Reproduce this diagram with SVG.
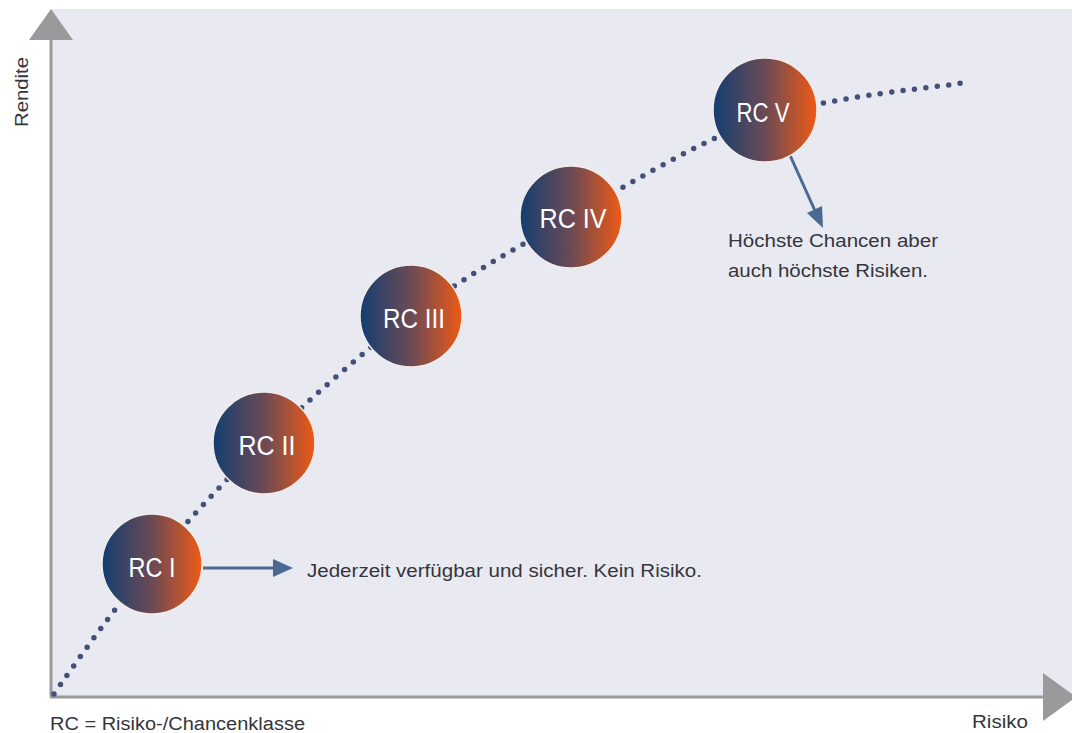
<svg xmlns="http://www.w3.org/2000/svg" width="1072" height="733" viewBox="0 0 1072 733">
<defs>
<linearGradient id="rc" x1="0" y1="0" x2="1" y2="0">
<stop offset="0" stop-color="#143e72"/>
<stop offset="0.5" stop-color="#6b4a55"/>
<stop offset="1" stop-color="#ef5a15"/>
</linearGradient>
<style>
.bg{fill:#e8e9f1}
.axis{stroke:#9a9a9c;stroke-width:3;fill:none}
.axhead{fill:#9a9a9c}
.curve{fill:none;stroke:#435078;stroke-width:5.5;stroke-linecap:round;stroke-dasharray:0 11.5}
.ball{fill:url(#rc);stroke:#f3ece8;stroke-width:1.5}
.lbl{font-family:"Liberation Sans",Arial,sans-serif;font-size:27px;fill:#ffffff;text-anchor:middle}
.note{font-family:"Liberation Sans",Arial,sans-serif;font-size:17.5px;fill:#35353a}
.axl{font-family:"Liberation Sans",Arial,sans-serif;font-size:18px;fill:#35353a}
.arr{stroke:#4b6a93;stroke-width:3;fill:none}
.arrh{fill:#4b6a93}
</style>
</defs>
<rect class="bg" x="51" y="9" width="1021" height="688"/>
<g id="axes">
<line class="axis" x1="51" y1="38" x2="51" y2="697"/>
<polygon class="axhead" points="51,9 29,40 73,40"/>
<line class="axis" x1="50" y1="697" x2="1045" y2="697"/>
<polygon class="axhead" points="1043,673 1043,721 1076,697"/>
<text class="axl" transform="translate(28,127) rotate(-90)" textLength="70" lengthAdjust="spacingAndGlyphs">Rendite</text>
<text class="axl" x="972" y="728" textLength="56" lengthAdjust="spacingAndGlyphs">Risiko</text>
<text class="axl" x="50" y="730" font-size="19" textLength="255" lengthAdjust="spacingAndGlyphs">RC = Risiko-/Chancenklasse</text>
</g>
<g id="connectors">
<path class="curve" d="M54,694 C71.2,668.8 117.2,604.2 152,563 C186.8,521.8 220.8,484.2 264,443 C307.2,401.8 359.8,353.7 411,316 C462.2,278.3 512,250 571,217 C630,184 698.5,140.5 765,118 C831.5,95.5 935.8,88 968,82"/>
<line class="arr" x1="203" y1="568" x2="276" y2="568"/>
<polygon class="arrh" points="273,559 293,568 273,577"/>
<line class="arr" x1="789" y1="153" x2="816" y2="213"/>
<polygon class="arrh" points="807,213 823,228 822,206"/>
</g>
<g id="rc1">
<circle class="ball" cx="152" cy="564" r="50"/>
<text class="lbl" x="152" y="577" textLength="47" lengthAdjust="spacingAndGlyphs">RC I</text>
</g>
<g id="rc2">
<circle class="ball" cx="264" cy="443" r="51"/>
<text class="lbl" x="267" y="455" textLength="57" lengthAdjust="spacingAndGlyphs">RC II</text>
</g>
<g id="rc3">
<circle class="ball" cx="411" cy="316" r="51"/>
<text class="lbl" x="414" y="328" textLength="62" lengthAdjust="spacingAndGlyphs">RC III</text>
</g>
<g id="rc4">
<circle class="ball" cx="571" cy="217" r="51"/>
<text class="lbl" x="573" y="228" textLength="67" lengthAdjust="spacingAndGlyphs">RC IV</text>
</g>
<g id="rc5">
<circle class="ball" cx="765" cy="110" r="52"/>
<text class="lbl" x="763" y="122" textLength="53" lengthAdjust="spacingAndGlyphs">RC V</text>
</g>
<g id="notes">
<text class="note" x="307" y="577" textLength="395" lengthAdjust="spacingAndGlyphs">Jederzeit verfügbar und sicher. Kein Risiko.</text>
<text class="note" x="728" y="247" textLength="210" lengthAdjust="spacingAndGlyphs">Höchste Chancen aber</text>
<text class="note" x="728" y="277" textLength="200" lengthAdjust="spacingAndGlyphs">auch höchste Risiken.</text>
</g>
</svg>
